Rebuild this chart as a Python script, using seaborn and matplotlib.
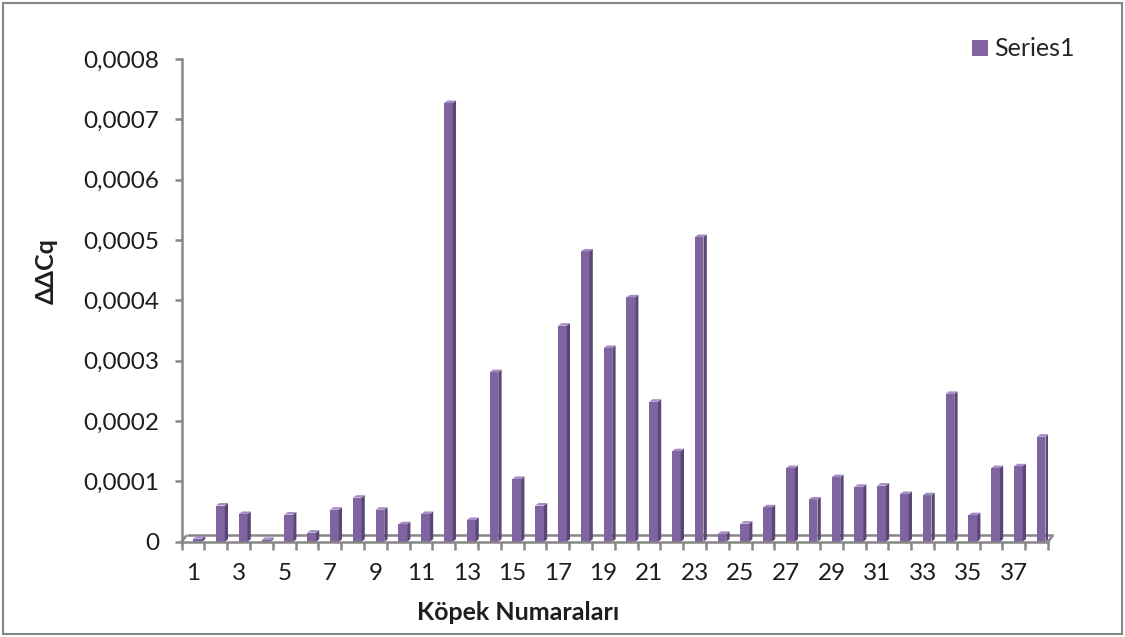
import matplotlib
matplotlib.use("Agg")
import matplotlib.pyplot as plt
from matplotlib.patches import Polygon, Rectangle
from matplotlib.ticker import FuncFormatter, FixedLocator
import seaborn as sns
import pandas as pd

# ΔΔCq values per dog
dogs = [str(i) for i in range(1, 39)]
ddcq = [0.000005, 0.000060, 0.000046, 0.000003, 0.000045, 0.000015, 0.000053,
        0.000073, 0.000053, 0.000029, 0.000046, 0.000727, 0.000036, 0.000281,
        0.000104, 0.000060, 0.000358, 0.000481, 0.000321, 0.000405, 0.000232,
        0.000150, 0.000505, 0.000013, 0.000030, 0.000057, 0.000122, 0.000070,
        0.000107, 0.000091, 0.000093, 0.000079, 0.000077, 0.000245, 0.000044,
        0.000122, 0.000125, 0.000174]
y_ticks = [0, 0.0001, 0.0002, 0.0003, 0.0004, 0.0005, 0.0006, 0.0007, 0.0008]
x_label = "Köpek Numaraları"
y_label = "ΔΔCq"
series_name = "Series1"

FRONT = "#8064A2"
SIDE = "#5B4676"
TOP = "#A48DC4"
AXIS = "#868686"
TEXT = "#1E1E1E"

sns.set_style("white")
plt.rcParams["font.family"] = ["Lato", "DejaVu Sans"]

W, H = 1125, 637
fig = plt.figure(figsize=(W / 100, H / 100), dpi=100)
L, R, B, T = 0.1615, 0.9316, 0.1496, 0.9074
ax = fig.add_axes([L, B, R - L, T - B])

df = pd.DataFrame({"dog": dogs, "ddcq": ddcq})
sns.barplot(data=df, x="dog", y="ddcq", color=FRONT, saturation=1,
            width=0.38, ax=ax, zorder=3)

n = len(dogs)
ax.set_xlim(-0.5, n - 0.5)
ax.set_ylim(0, y_ticks[-1])

# pixel -> data conversion for the pseudo-3D depth
ax_w_px = (R - L) * W
ax_h_px = (T - B) * H
px_x = n / ax_w_px
px_y = y_ticks[-1] / ax_h_px

shift = 4.5 * px_x
dx, dy = 3.3 * px_x, 2.5 * px_y
for p in ax.patches:
    p.set_x(p.get_x() + shift)
    p.set_edgecolor("none")
    x0, x1, h = p.get_x(), p.get_x() + p.get_width(), p.get_height()
    ax.add_patch(Polygon([(x1, 0), (x1, h), (x1 + dx, h + dy), (x1 + dx, dy)],
                         closed=True, facecolor=SIDE, edgecolor="none", zorder=3))
    ax.add_patch(Polygon([(x0, h), (x1, h), (x1 + dx, h + dy), (x0 + dx, h + dy)],
                         closed=True, facecolor=TOP, edgecolor="none", zorder=3))

# floor of the 3D plot area
fdx, fdy = 5 * px_x, 6.5 * px_y
floor_kw = dict(color=AXIS, lw=1.8, solid_capstyle="butt", clip_on=False, zorder=2)
ax.plot([-0.5 + fdx, n - 0.5 + fdx], [fdy, fdy], **floor_kw)
ax.plot([-0.5, -0.5 + fdx], [0, fdy], **floor_kw)
ax.plot([n - 0.5, n - 0.5 + fdx], [0, fdy], **floor_kw)

for side in ["top", "right"]:
    ax.spines[side].set_visible(False)
for side in ["left", "bottom"]:
    ax.spines[side].set_color(AXIS)
    ax.spines[side].set_linewidth(1.8)
    ax.spines[side].set_zorder(4)

ax.set_yticks(y_ticks)
ax.yaxis.set_major_formatter(FuncFormatter(
    lambda v, _: "0" if v == 0 else f"{v:.4f}".replace(".", ",")))
ax.tick_params(axis="y", direction="out", length=5, width=1.8, color=AXIS,
               labelsize=17.5, labelcolor=TEXT, pad=11, left=True)

ax.set_xticks(range(0, n, 2))
ax.set_xticklabels(dogs[::2])
ax.xaxis.set_minor_locator(FixedLocator([i - 0.5 for i in range(n + 1)]))
ax.tick_params(axis="x", which="major", length=0, labelsize=17.5,
               labelcolor=TEXT, pad=15)
ax.tick_params(axis="x", which="minor", direction="out", length=6, width=1.8,
               color=AXIS, bottom=True)

ax.set_xlabel(x_label, fontsize=18, fontweight="bold", color=TEXT)
ax.set_ylabel(y_label, fontsize=18, fontweight="bold", color=TEXT)
ax.xaxis.set_label_coords(0.388, -0.122)
ax.yaxis.set_label_coords(-0.143, 0.561)

handle = Rectangle((0, 0), 1, 1, facecolor=FRONT, edgecolor="none")
fig.legend([handle], [series_name], loc="center left",
           bbox_to_anchor=(972 / W, 1 - 49 / H), frameon=False, fontsize=18,
           borderpad=0, borderaxespad=0,
           handlelength=0.62, handleheight=0.62, handletextpad=0.25)

# outer chart border
fig.add_artist(Rectangle((0.003, 0.004), 0.994, 0.991, transform=fig.transFigure,
                         fill=False, edgecolor=AXIS, lw=1.5))

fig.savefig("out.png", dpi=100, facecolor="white")
